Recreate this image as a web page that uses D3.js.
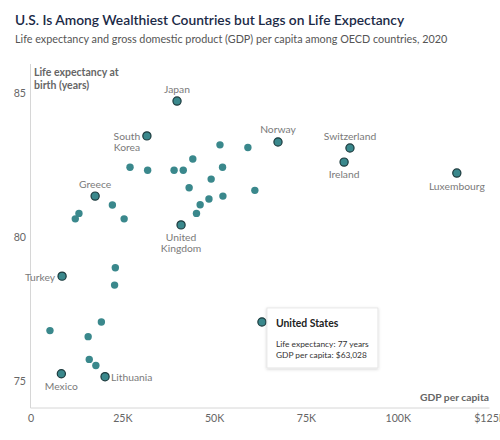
<!DOCTYPE html>
<html>
<head>
<meta charset="utf-8">
<script src="https://cdn.jsdelivr.net/npm/d3@7"></script>
<style>
  html, body { margin: 0; padding: 0; background: #fff; }
  svg { display: block; }
</style>
</head>
<body>
<svg id="chart" width="500" height="440"></svg>
<script>
// ---- Data ----
const countries = [
  "Japan", "South Korea", "Norway", "Switzerland", "Ireland", "Luxembourg",
  "Greece", "United Kingdom", "Turkey", "United States", "Mexico", "Lithuania",
  "", "", "", "", "", "", "", "", "", "", "", "", "", "",
  "", "", "", "", "", "", "", "", "", "", "", ""
];
const gdpPerCapita = [
  39900, 31700, 67400, 87000, 85400, 116100,
  17600, 41000, 8600, 63028, 8400, 20300,
  51600, 59200, 44200, 27100, 31900, 39100, 41600, 52300, 49200, 43200, 61100, 52400, 48600, 46200,
  45200, 25500, 22300, 13200, 12200, 23100, 22900, 19300, 5300, 15700, 16000, 17800
];
const lifeExpectancy = [
  84.72, 83.51, 83.30, 83.09, 82.60, 82.22,
  81.42, 80.42, 78.64, 77.05, 75.25, 75.15,
  83.20, 83.11, 82.71, 82.42, 82.32, 82.32, 82.32, 82.42, 82.01, 81.71, 81.62, 81.42, 81.32, 81.12,
  80.82, 80.63, 81.11, 80.82, 80.63, 78.93, 78.33, 77.05, 76.75, 76.54, 75.75, 75.54
];
const xTicks = [0, 25000, 50000, 75000, 100000, 125000];
const xTickLabels = ["0", "25K", "50K", "75K", "100K", "$125K"];
const yTicks = [75, 80, 85];
const yTickLabels = ["75", "80", "85"];

const title = "U.S. Is Among Wealthiest Countries but Lags on Life Expectancy";
const subtitle = "Life expectancy and gross domestic product (GDP) per capita among OECD countries, 2020";

// ---- Layout ----
const svg = d3.select("#chart");
const font = "Lato, 'Noto Sans', sans-serif";
const x = d3.scaleLinear().domain([0, 125000]).range([30.5, 489.5]);
const y = d3.scaleLinear().domain([75, 85]).range([381, 93]);
const yBottom = 408, yTop = 64;

const data = countries.map((c, i) => ({ name: c, gdp: gdpPerCapita[i], le: lifeExpectancy[i] }));

// Title & subtitle
svg.append("text").attr("x", 15).attr("y", 25)
  .attr("font-family", font).attr("font-size", 13.8).attr("font-weight", 600)
  .attr("fill", "#1b2a47").text(title);
svg.append("text").attr("x", 15).attr("y", 42.5)
  .attr("font-family", font).attr("font-size", 10.8)
  .attr("fill", "#555").text(subtitle);

// Axes
svg.append("line").attr("x1", x(0)).attr("x2", x(0)).attr("y1", yTop).attr("y2", yBottom)
  .attr("stroke", "#d6d6d6").attr("stroke-width", 1);
svg.append("line").attr("x1", x(0)).attr("x2", x(125000)).attr("y1", yBottom).attr("y2", yBottom)
  .attr("stroke", "#d6d6d6").attr("stroke-width", 1);

const xAxis = d3.axisBottom(x).tickValues(xTicks).tickSize(0).tickPadding(0)
  .tickFormat((d, i) => xTickLabels[i]);
const gx = svg.append("g").attr("transform", `translate(0,${yBottom})`).call(xAxis);
gx.select(".domain").remove();
gx.selectAll("text").attr("font-family", font).attr("font-size", 10.6).attr("fill", "#666")
  .attr("dy", null).attr("y", 14);

const yAxis = d3.axisLeft(y).tickValues(yTicks).tickSize(0).tickPadding(0)
  .tickFormat((d, i) => yTickLabels[i]);
const gy = svg.append("g").attr("transform", `translate(26,0)`).call(yAxis);
gy.select(".domain").remove();
gy.selectAll("text").attr("font-family", font).attr("font-size", 10.6).attr("fill", "#666")
  .attr("dy", "0.35em").attr("x", 0);

// Axis titles
svg.append("text").attr("x", 34).attr("y", 76)
  .attr("font-family", font).attr("font-size", 10.5).attr("font-weight", 700).attr("fill", "#666")
  .text("Life expectancy at");
svg.append("text").attr("x", 34).attr("y", 89)
  .attr("font-family", font).attr("font-size", 10.5).attr("font-weight", 700).attr("fill", "#666")
  .text("birth (years)");
svg.append("text").attr("x", 489).attr("y", 401).attr("text-anchor", "end")
  .attr("font-family", font).attr("font-size", 10.3).attr("font-weight", 700).attr("fill", "#666")
  .text("GDP per capita");

// Points
const teal = "#3a888c";
svg.append("g").selectAll("circle")
  .data(data.filter(d => !d.name))
  .join("circle")
  .attr("cx", d => x(d.gdp)).attr("cy", d => y(d.le)).attr("r", 3.7)
  .attr("fill", teal);
svg.append("g").selectAll("circle")
  .data(data.filter(d => d.name))
  .join("circle")
  .attr("cx", d => x(d.gdp)).attr("cy", d => y(d.le)).attr("r", 4.1)
  .attr("fill", teal).attr("stroke", "#1d3b3e").attr("stroke-width", 1.2);

// Labels (placement relative to each dot)
const place = {
  "Japan":          { dx: 0,   dy: [-8],      anchor: "middle" },
  "South Korea":    { dx: -20, dy: [4, 15.5], anchor: "middle", lines: ["South", "Korea"] },
  "Norway":         { dx: 0,   dy: [-9],      anchor: "middle" },
  "Switzerland":    { dx: 0,   dy: [-8],      anchor: "middle" },
  "Ireland":        { dx: 0,   dy: [16],      anchor: "middle" },
  "Luxembourg":     { dx: 0,   dy: [17],      anchor: "middle" },
  "Greece":         { dx: 0,   dy: [-8],      anchor: "middle" },
  "United Kingdom": { dx: 0,   dy: [16, 27.5], anchor: "middle", lines: ["United", "Kingdom"] },
  "Turkey":         { dx: -7,  dy: [4.5],     anchor: "end" },
  "Mexico":         { dx: 0,   dy: [16],      anchor: "middle" },
  "Lithuania":      { dx: 6,   dy: [4],       anchor: "start" }
};
const lg = svg.append("g");
data.filter(d => place[d.name]).forEach(d => {
  const p = place[d.name];
  const lines = p.lines || [d.name];
  lines.forEach((t, k) => {
    lg.append("text")
      .attr("x", x(d.gdp) + p.dx).attr("y", y(d.le) + p.dy[k])
      .attr("text-anchor", p.anchor)
      .attr("font-family", font).attr("font-size", 10.3).attr("fill", "#7a7a7a")
      .text(t);
  });
});

// Tooltip for United States
const us = data.find(d => d.name === "United States");
const tx = x(us.gdp) + 5, ty = y(us.le) - 14;
const defs = svg.append("defs");
const f = defs.append("filter").attr("id", "sh").attr("x", "-20%").attr("y", "-20%")
  .attr("width", "140%").attr("height", "140%");
f.append("feDropShadow").attr("dx", 0).attr("dy", 1).attr("stdDeviation", 1.5)
  .attr("flood-color", "#000").attr("flood-opacity", 0.18);
svg.append("rect").attr("x", tx).attr("y", ty).attr("width", 111).attr("height", 60)
  .attr("fill", "#fff").attr("stroke", "#e2e2e2").attr("stroke-width", 0.8)
  .attr("filter", "url(#sh)");
svg.append("text").attr("x", tx + 9).attr("y", ty + 19)
  .attr("font-family", font).attr("font-size", 10.4).attr("font-weight", 700).attr("fill", "#222")
  .text(us.name);
svg.append("text").attr("x", tx + 9).attr("y", ty + 39)
  .attr("font-family", font).attr("font-size", 8.4).attr("fill", "#333")
  .text(`Life expectancy: ${Math.round(us.le)} years`);
svg.append("text").attr("x", tx + 9).attr("y", ty + 50)
  .attr("font-family", font).attr("font-size", 8.4).attr("fill", "#333")
  .text(`GDP per capita: $${d3.format(",")(us.gdp)}`);
</script>
</body>
</html>
